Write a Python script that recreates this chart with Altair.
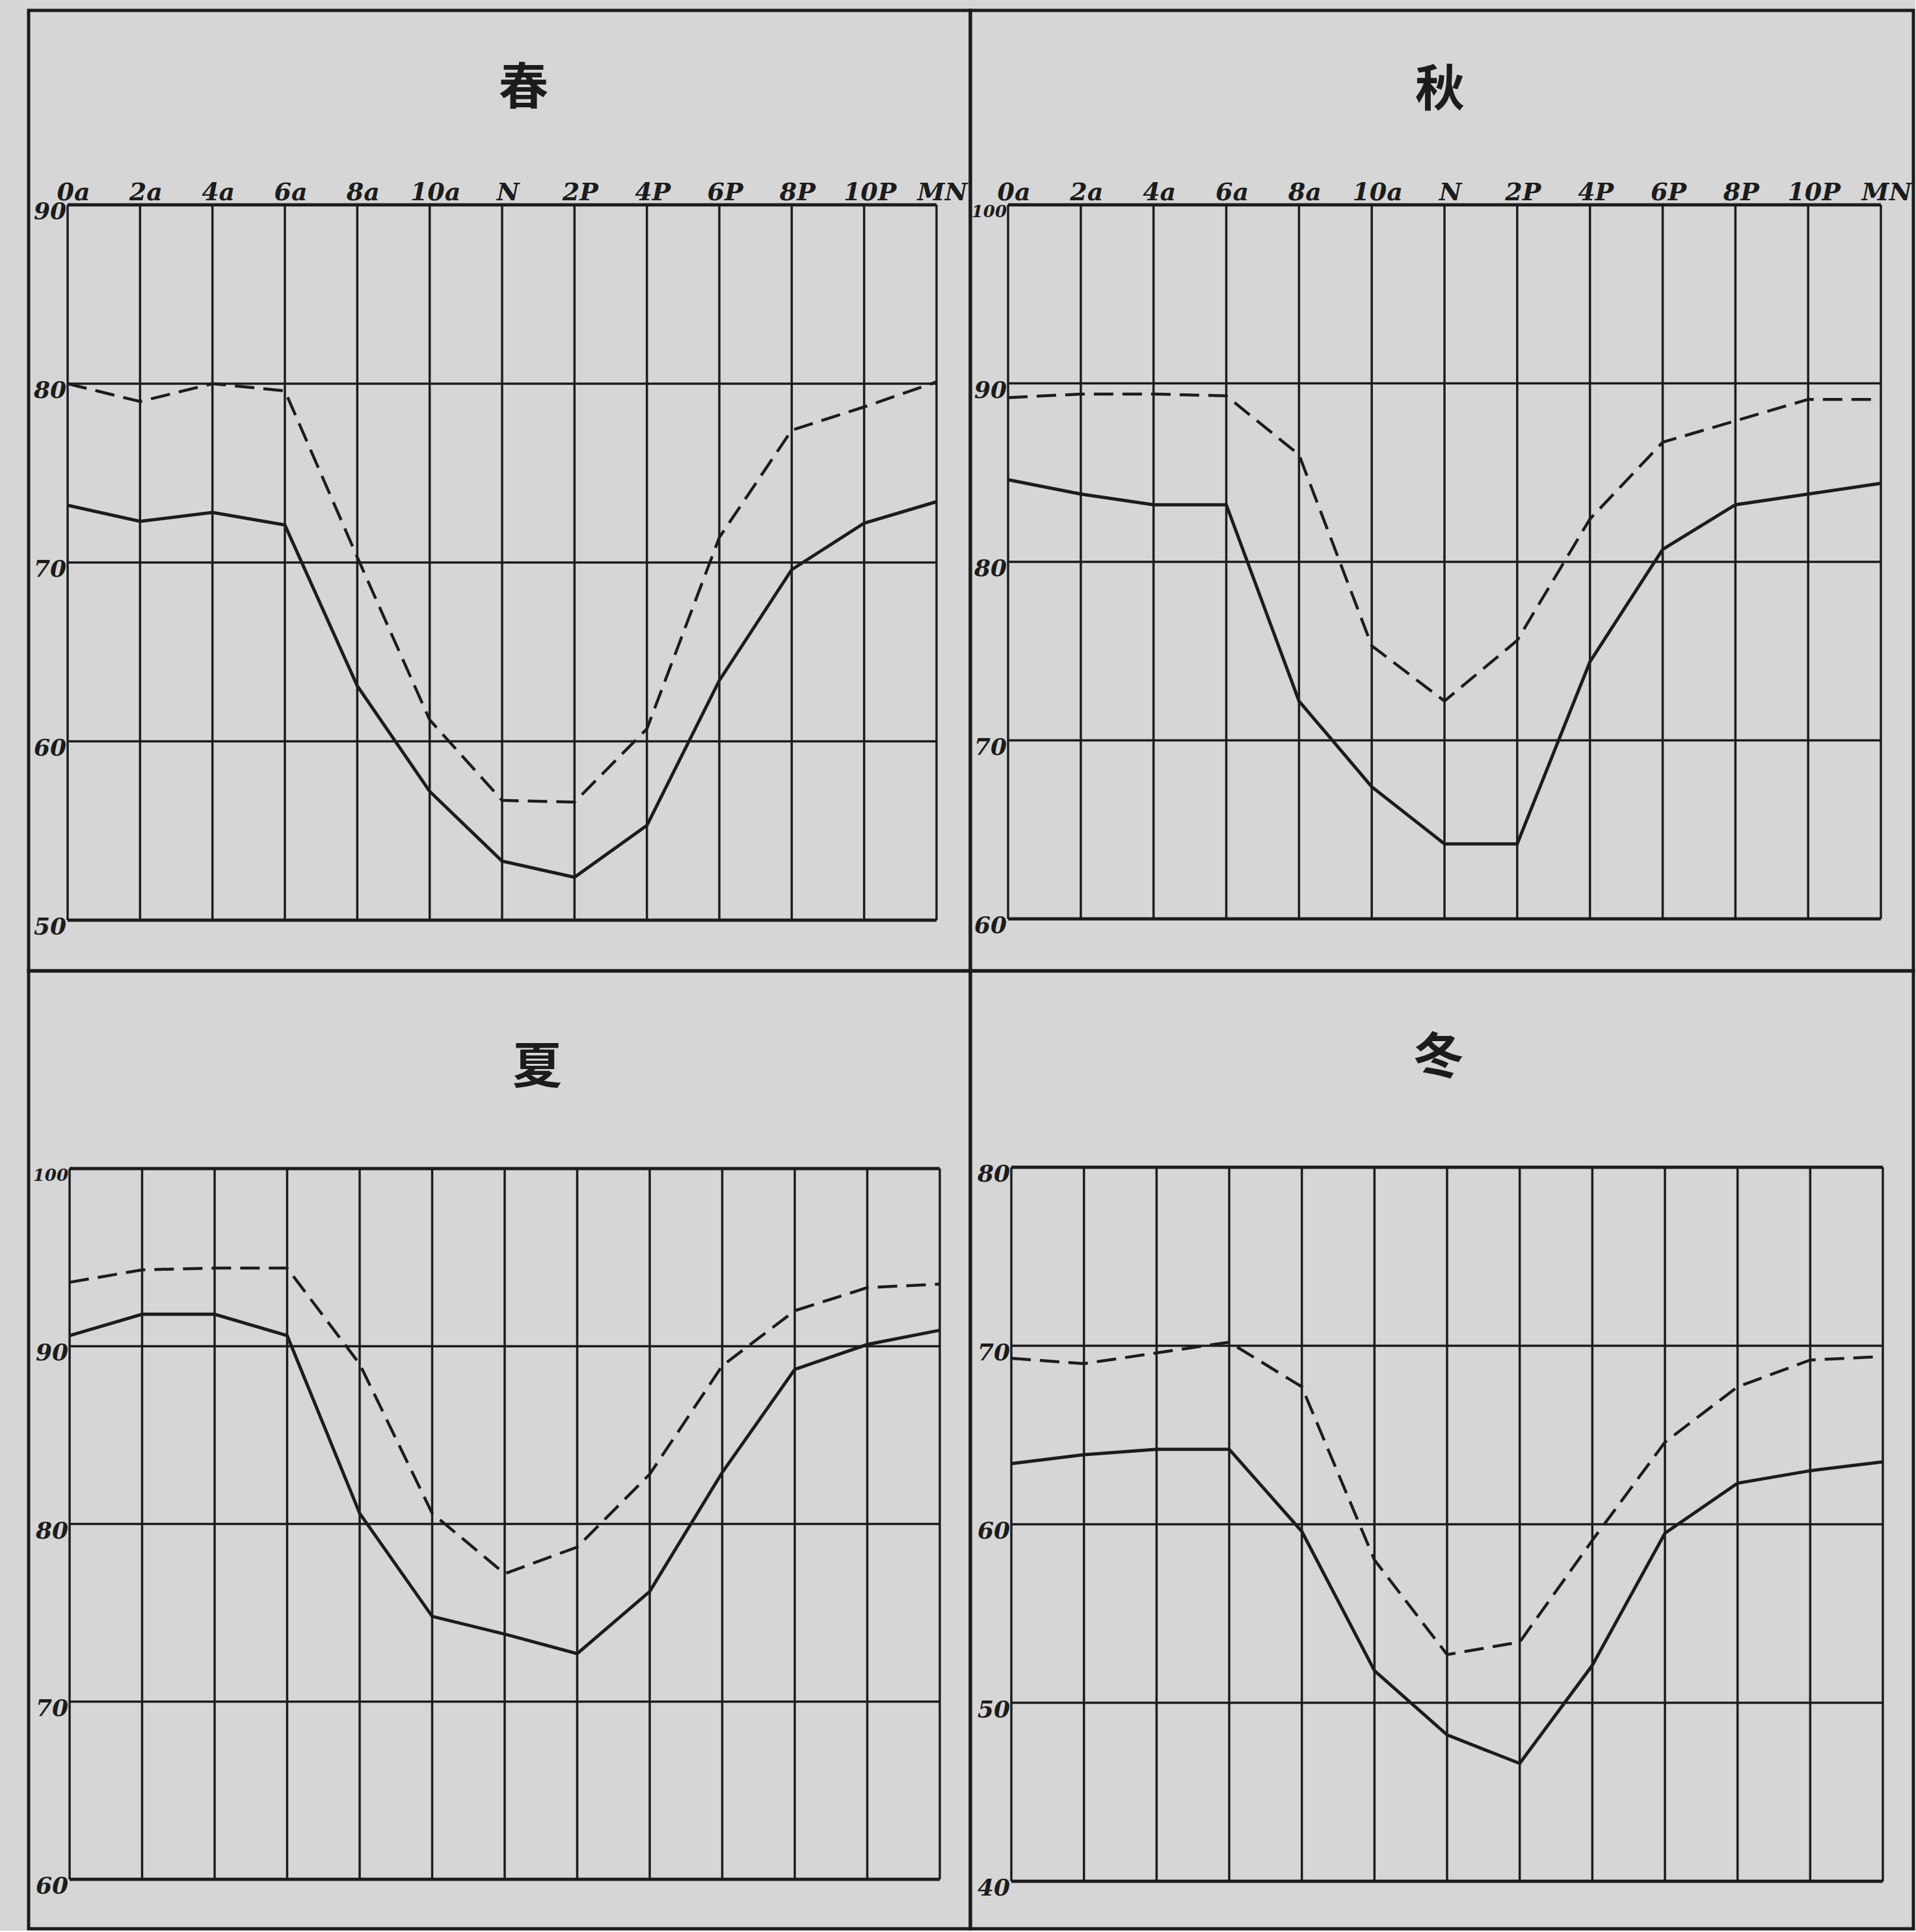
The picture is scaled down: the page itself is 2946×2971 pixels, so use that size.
import altair as alt
import pandas as pd

# Hour labels along the top of each panel (two-hour steps, noon = N, midnight = MN)
HOURS = ["0a", "2a", "4a", "6a", "8a", "10a", "N", "2P", "4P", "6P", "8P", "10P", "MN"]

# Seasonal daily curves: dashed and solid series, one value per two hours
SPRING_DASHED = [80.0, 79.0, 80.0, 79.6, 70.3, 61.2, 56.7, 56.6, 60.7, 71.4, 77.4, 78.7, 80.1]
SPRING_SOLID = [73.2, 72.3, 72.8, 72.1, 63.1, 57.2, 53.3, 52.4, 55.3, 63.4, 69.6, 72.2, 73.4]

AUTUMN_DASHED = [89.2, 89.4, 89.4, 89.3, 86.0, 75.3, 72.2, 75.6, 82.4, 86.7, 87.9, 89.1, 89.1]
AUTUMN_SOLID = [84.6, 83.8, 83.2, 83.2, 72.2, 67.4, 64.2, 64.2, 74.4, 80.7, 83.2, 83.8, 84.4]

SUMMER_DASHED = [93.6, 94.3, 94.4, 94.4, 89.0, 80.6, 77.2, 78.7, 82.8, 88.9, 92.0, 93.3, 93.5]
SUMMER_SOLID = [90.6, 91.8, 91.8, 90.6, 80.6, 74.8, 73.8, 72.7, 76.2, 82.9, 88.7, 90.1, 90.9]

WINTER_DASHED = [69.3, 69.0, 69.6, 70.2, 67.7, 58.0, 52.7, 53.4, 59.1, 64.6, 67.7, 69.2, 69.4]
WINTER_SOLID = [63.4, 63.9, 64.2, 64.2, 59.6, 51.8, 48.2, 46.6, 52.1, 59.5, 62.3, 63.0, 63.5]

# Vertical scale ticks of each panel
SPRING_TICKS = [50, 60, 70, 80, 90]
AUTUMN_TICKS = [60, 70, 80, 90, 100]
SUMMER_TICKS = [60, 70, 80, 90, 100]
WINTER_TICKS = [40, 50, 60, 70, 80]

INK = "#1c1c1c"
PAPER = "#d6d6d6"
LABEL_FONT = "DejaVu Serif"
TITLE_FONT = "Noto Sans CJK JP"


def panel(title, dashed, solid, ticks, cell_w, cell_h, box, title_pos, show_hours):
    """One framed cell: season title on top, ruled grid below with two curves."""
    x0, x1, ytop, ybot = box
    lo, hi = ticks[0], ticks[-1]
    xs = alt.Scale(domain=[0, 12], range=[x0, x1], nice=False, zero=False)
    ys = alt.Scale(domain=[lo, hi], range=[ybot, ytop], nice=False, zero=False)
    hours = list(range(len(HOURS)))

    def X(field):
        return alt.X(field, scale=xs, axis=None)

    def Y(field):
        return alt.Y(field, scale=ys, axis=None)

    vgrid = pd.DataFrame({"h": hours, "lo": lo, "hi": hi})
    inner = pd.DataFrame({"v": ticks[1:-1], "a": 0, "b": 12})
    edges = pd.DataFrame({"v": [lo, hi], "a": 0, "b": 12})
    dash_df = pd.DataFrame({"h": hours, "v": dashed})
    solid_df = pd.DataFrame({"h": hours, "v": solid})
    ylab_df = pd.DataFrame({"v": ticks, "a": 0, "t": [str(t) for t in ticks]})
    # three-digit scale labels are written smaller to fit beside the grid
    ylab_df["fs"] = [26 if len(t) > 2 else 36 for t in ylab_df["t"]]
    xlab_df = pd.DataFrame({"h": hours, "v": hi, "t": HOURS})

    verticals = alt.Chart(vgrid).mark_rule(color=INK, strokeWidth=3.5).encode(
        x=X("h:Q"), y=Y("lo:Q"), y2="hi:Q"
    )
    inner_rules = alt.Chart(inner).mark_rule(color=INK, strokeWidth=3.5).encode(
        x=X("a:Q"), x2="b:Q", y=Y("v:Q")
    )
    edge_rules = alt.Chart(edges).mark_rule(color=INK, strokeWidth=5).encode(
        x=X("a:Q"), x2="b:Q", y=Y("v:Q")
    )
    dashed_line = alt.Chart(dash_df).mark_line(
        color=INK, strokeWidth=4.5, strokeDash=[30, 14]
    ).encode(x=X("h:Q"), y=Y("v:Q"))
    solid_line = alt.Chart(solid_df).mark_line(color=INK, strokeWidth=5).encode(
        x=X("h:Q"), y=Y("v:Q")
    )
    y_labels = alt.Chart(ylab_df).mark_text(
        font=LABEL_FONT, fontStyle="italic", fontWeight="bold",
        color=INK, align="right", baseline="middle", dx=-2, dy=11,
    ).encode(
        x=X("a:Q"), y=Y("v:Q"), text="t:N", size=alt.Size("fs:Q", scale=None, legend=None)
    )
    heading = alt.Chart(pd.DataFrame({"t": [title]})).mark_text(
        font=TITLE_FONT, fontSize=76, fontWeight="bold", color=INK,
        align="center", baseline="middle",
    ).encode(text="t:N", x=alt.value(title_pos[0]), y=alt.value(title_pos[1]))

    layers = [verticals, inner_rules, edge_rules, dashed_line, solid_line, y_labels, heading]
    if show_hours:
        x_labels = alt.Chart(xlab_df).mark_text(
            font=LABEL_FONT, fontSize=38, fontStyle="italic", fontWeight="bold",
            color=INK, align="center", baseline="alphabetic", dx=9, dy=-7,
        ).encode(x=X("h:Q"), y=Y("v:Q"), text="t:N")
        layers.append(x_labels)

    return alt.layer(*layers).properties(width=cell_w, height=cell_h)


spring = panel("春", SPRING_DASHED, SPRING_SOLID, SPRING_TICKS, 1448, 1477,
               (60, 1396, 299, 1399), (761, 121), True)
autumn = panel("秋", AUTUMN_DASHED, AUTUMN_SOLID, AUTUMN_TICKS, 1450, 1477,
               (58, 1400, 299, 1397), (722, 124), True)
summer = panel("夏", SUMMER_DASHED, SUMMER_SOLID, SUMMER_TICKS, 1448, 1473,
               (63, 1401, 304, 1397), (782, 150), False)
winter = panel("冬", WINTER_DASHED, WINTER_SOLID, WINTER_TICKS, 1450, 1473,
               (63, 1403, 302, 1400), (720, 135), False)

chart = alt.concat(
    spring, autumn, summer, winter, columns=2, spacing=0, bounds="flush"
).configure(
    background=PAPER,
    padding={"left": 41, "top": 13, "right": 0, "bottom": 0},
).configure_view(stroke=INK, strokeWidth=5)

chart.save("out.html", embed_options={"renderer": "svg", "actions": False})
